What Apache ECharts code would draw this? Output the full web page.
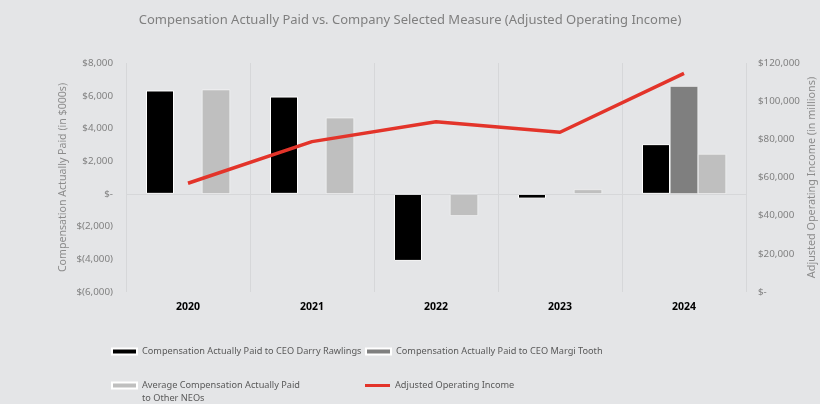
<!DOCTYPE html>
<html>
<head>
<meta charset="utf-8">
<script src="https://cdn.jsdelivr.net/npm/echarts@6/dist/echarts.min.js"></script>
<style>
html,body{margin:0;padding:0;background:#e4e5e7;}
#chart{width:820px;height:404px;}
</style>
</head>
<body>
<div id="chart"></div>
<script>
const years = ['2020', '2021', '2022', '2023', '2024'];
const ceoRawlings = [6320, 5950, -4100, -290, 3040];
const ceoTooth = [null, null, null, null, 6580];
const otherNeos = [6370, 4650, -1340, 270, 2430];
const adjOpIncome = [57000, 78800, 89200, 83700, 114600];

const leftTicks = { min: -6000, max: 8000, step: 2000 };
const rightTicks = { min: 0, max: 120000, step: 20000 };

const FONT = 'Noto Sans';
function fmtLeft(v) {
  if (v === 0) return '$-';
  const s = Math.abs(v).toLocaleString('en-US');
  return v < 0 ? '$(' + s + ')' : '$' + s;
}
function fmtRight(v) {
  if (v === 0) return '$-';
  return '$' + v.toLocaleString('en-US');
}

const chart = echarts.init(document.getElementById('chart'));
const legendText = { color: '#595959', fontSize: 9.2, fontFamily: FONT, lineHeight: 13 };
chart.setOption({
  backgroundColor: '#e4e5e7',
  animation: false,
  title: {
    text: 'Compensation Actually Paid vs. Company Selected Measure (Adjusted Operating Income)',
    left: 'center', top: 9,
    textStyle: { color: '#7f7f7f', fontSize: 13, fontWeight: 'normal', fontFamily: FONT }
  },
  grid: { left: 126, right: 74, top: 63, bottom: 112, containLabel: false, outerBoundsMode: 'none' },
  legend: [
    { data: ['Compensation Actually Paid to CEO Darry Rawlings'], left: 111, top: 345, itemWidth: 25, itemHeight: 6, itemGap: 2, icon: 'rect', textStyle: legendText, padding: 0 },
    { data: ['Compensation Actually Paid to CEO Margi Tooth'], left: 365, top: 345, itemWidth: 25, itemHeight: 6, icon: 'rect', textStyle: legendText, padding: 0 },
    { data: ['Average Compensation Actually Paid\nto Other NEOs'], left: 111, top: 366, itemWidth: 25, itemHeight: 6, icon: 'rect', textStyle: legendText, padding: 0,
      formatter: function (name) { return ' \n' + name; } },
    { data: [{ name: 'Adjusted Operating Income', icon: 'rect' }], left: 365, top: 379, itemWidth: 25, itemHeight: 3, textStyle: legendText, padding: 0 }
  ],
  xAxis: {
    type: 'category',
    data: years,
    axisLine: { show: false, onZero: false },
    axisTick: { show: false },
    splitLine: { show: true, lineStyle: { color: '#d6d7d9', width: 1 } },
    axisLabel: { color: '#000', fontWeight: 'bold', fontSize: 10.5, fontFamily: FONT, margin: 10 }
  },
  yAxis: [
    {
      type: 'value', min: leftTicks.min, max: leftTicks.max, interval: leftTicks.step,
      name: 'Compensation Actually Paid (in $000s)', nameLocation: 'middle', nameGap: 58, nameRotate: 90,
      nameMoveOverlap: false,
      nameTextStyle: { color: '#8c8c8c', fontSize: 10.6, fontFamily: FONT },
      axisLine: { show: false }, axisTick: { show: false }, splitLine: { show: false },
      axisLabel: { formatter: fmtLeft, color: '#808080', fontSize: 9.8, fontFamily: FONT, margin: 13 }
    },
    {
      type: 'value', min: rightTicks.min, max: rightTicks.max, interval: rightTicks.step,
      name: 'Adjusted Operating Income (in millions)', nameLocation: 'middle', nameGap: 60, nameRotate: 90,
      nameMoveOverlap: false,
      nameTextStyle: { color: '#8c8c8c', fontSize: 10.8, fontFamily: FONT },
      axisLine: { show: false }, axisTick: { show: false }, splitLine: { show: false },
      axisLabel: { formatter: fmtRight, color: '#808080', fontSize: 9.8, fontFamily: FONT, margin: 12 }
    }
  ],
  series: [
    {
      name: 'Compensation Actually Paid to CEO Darry Rawlings', type: 'bar', data: ceoRawlings,
      barWidth: 28, barGap: '0%',
      itemStyle: { color: '#000000', borderColor: '#ffffff', borderWidth: 1 },
      markLine: { silent: true, symbol: 'none', label: { show: false }, lineStyle: { color: '#d6d7d9', type: 'solid', width: 1 }, data: [{ yAxis: 0 }] },
      z: 3
    },
    {
      name: 'Compensation Actually Paid to CEO Margi Tooth', type: 'bar', data: ceoTooth,
      barWidth: 28, barGap: '0%',
      itemStyle: { color: '#7f7f7f', borderColor: '#ffffff', borderWidth: 0.5 }
    },
    {
      name: 'Average Compensation Actually Paid\nto Other NEOs', type: 'bar', data: otherNeos,
      barWidth: 28, barGap: '0%',
      itemStyle: { color: '#bfbfbf', borderColor: '#ffffff', borderWidth: 0.5 }
    },
    {
      name: 'Adjusted Operating Income', type: 'line', yAxisIndex: 1, data: adjOpIncome,
      symbol: 'none', lineStyle: { color: '#e3342a', width: 3.5 }, itemStyle: { color: '#e3342a' }, z: 5
    }
  ]
});
</script>
</body>
</html>
